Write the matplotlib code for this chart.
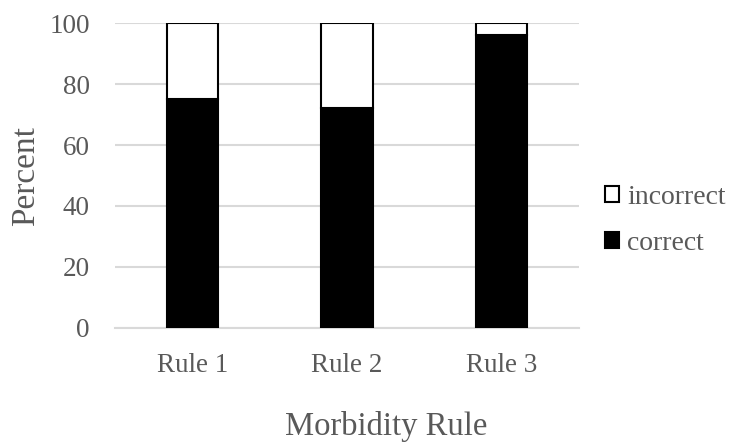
import matplotlib.pyplot as plt
from matplotlib.patches import Patch

# percent of cases classified correctly per rule
rules = ["Rule 1", "Rule 2", "Rule 3"]
correct = [75, 72, 96]
incorrect = [25, 28, 4]
yticks = [0, 20, 40, 60, 80, 100]

plt.rcParams['font.family'] = ['Liberation Serif', 'DejaVu Serif']
txt = '#595959'
grid = '#d9d9d9'

fig = plt.figure(figsize=(7.31, 4.46), dpi=100)
ax = fig.add_axes([0.1573, 0.2646, 0.6348, 0.6838])

x = range(len(rules))
ax.bar(x, correct, width=0.33, color='black', edgecolor='black', linewidth=1.5, zorder=3)
ax.bar(x, incorrect, bottom=correct, width=0.33, color='white', edgecolor='black',
       linewidth=1.5, zorder=3)

ax.set_xlim(-0.5, 2.5)
ax.set_ylim(0, 100)
ax.set_yticks(yticks)
ax.set_xticks(list(x))
ax.set_xticklabels(rules)
ax.tick_params(length=0, labelsize=19.5, labelcolor=txt)
ax.tick_params(axis='y', pad=18)
ax.tick_params(axis='x', pad=18)
ax.yaxis.grid(True, color=grid, linewidth=1.5, zorder=0)
ax.set_axisbelow(True)
for side in ['top', 'right', 'left']:
    ax.spines[side].set_visible(False)
ax.spines['bottom'].set_color(grid)
ax.spines['bottom'].set_linewidth(1.5)
ax.spines['bottom'].set_zorder(1)

ax.set_ylabel("Percent", fontsize=24, color=txt, labelpad=6)
fig.text(386.5 / 731, 1 - 426 / 446, "Morbidity Rule", fontsize=23.5, color=txt,
         ha='center', va='center')

handles = [Patch(facecolor='white', edgecolor='black', linewidth=1.5, label='incorrect'),
           Patch(facecolor='black', edgecolor='black', linewidth=1.5, label='correct')]
fig.legend(handles=handles, loc='center left', bbox_to_anchor=(0.7935, 1 - 220.5 / 446),
           frameon=False, fontsize=20, labelcolor=txt, handlelength=0.5,
           handleheight=0.5, handletextpad=0.3, labelspacing=0.74)

fig.savefig('out.png', dpi=100)
